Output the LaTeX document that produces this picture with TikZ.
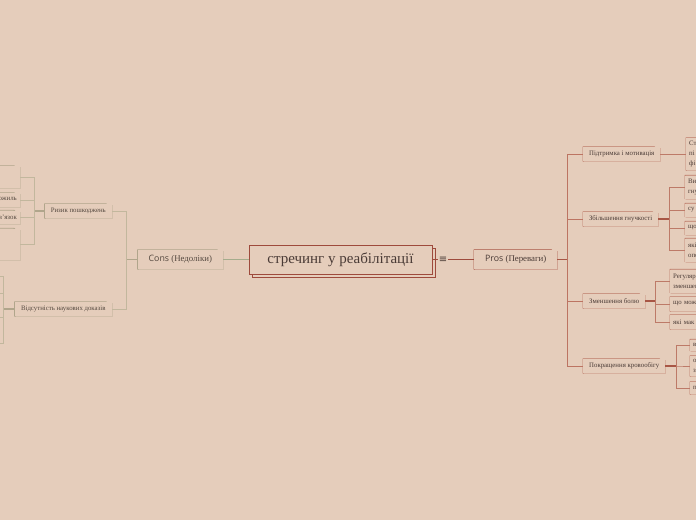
\documentclass[tikz,border=0pt]{standalone}
\usepackage{xcolor}
\usepackage{fontspec}
\setmainfont{Liberation Serif}
\newfontfamily\labelsans{Open Sans}
\newfontfamily\symbfont{DejaVu Sans}
\usepackage{tikz}
\usetikzlibrary{positioning, shadows}
\definecolor{canvasbg}{HTML}{E5CDBB}
\definecolor{rootred}{HTML}{9E4A3C}
\definecolor{prosred}{HTML}{A85645}
\definecolor{prosline}{HTML}{BC7462}
\definecolor{leafred}{HTML}{BD7A68}
\definecolor{consgray}{HTML}{B0A58B}
\definecolor{consline}{HTML}{C2B79D}
\definecolor{rootgreen}{HTML}{A5AC8C}
\definecolor{textdark}{HTML}{4A3B36}
\definecolor{textgray}{HTML}{54483F}
\tikzset{
    rootbox/.style={
        rectangle, draw=rootred, fill=canvasbg, line width=0.9pt,
        minimum width=183pt, minimum height=29pt,
        font=\fontsize{15}{17}\selectfont, text=textdark,
        copy shadow={shadow xshift=3pt, shadow yshift=-3pt}
    },
    foldbox/.style={
        rectangle, draw=none, fill=canvasbg, inner xsep=3pt, inner ysep=1pt,
        text=textdark, align=left,
        general shadow={shadow xshift=1pt, shadow yshift=-1pt, fill=#1!35!canvasbg},
        append after command={\pgfextra{
            \draw[#1, line width=0.85pt, line join=round]
                (\tikzlastnode.north west) -- ([xshift=-6pt]\tikzlastnode.north east)
                -- ([yshift=-6pt]\tikzlastnode.north east) -- (\tikzlastnode.south east)
                -- (\tikzlastnode.south west) -- cycle
                ([xshift=-6pt]\tikzlastnode.north east) |- ([yshift=-6pt]\tikzlastnode.north east);
        }}
    },
    branchbox/.style={
        foldbox=#1, minimum height=19pt, font=\fontsize{8.8}{10}\selectfont
    },
    topicbox/.style={
        foldbox=#1, minimum height=14pt, font=\fontsize{6.8}{8}\selectfont
    },
    leafbox/.style={
        foldbox=#1, font=\fontsize{6.8}{10}\selectfont, text width=52pt
    },
    rootlink/.style={line width=1.2pt, color=rootred},
    consroot/.style={line width=1pt, color=rootgreen},
    prosbus/.style={line width=0.8pt, color=prosline},
    prosstem/.style={line width=1.2pt, color=prosred},
    leaflink/.style={line width=0.8pt, color=leafred},
    leafstem/.style={line width=1.2pt, color=prosred},
    conslink/.style={line width=0.8pt, color=consline},
    consstem/.style={line width=1.2pt, color=consgray},
}
\begin{document}
\begin{tikzpicture}[x=1pt, y=-1pt]
    \useasboundingbox (0,0) rectangle (696,520);
    \fill[canvasbg] (0,0) rectangle (696,520);
    \clip (0,0) rectangle (696,520);

    % centre and the two branches
    \node[rootbox] (root) at (340.5,259.5) {стречинг у реабілітації};
    \node[branchbox=prosred, anchor=west, minimum width=83pt] (pros) at (474,259.5) {{\labelsans Pros} (Переваги)};
    \node[branchbox=consgray, anchor=east, minimum width=85pt, text=textgray] (cons) at (223,259.5) {{\labelsans Cons} (Недоліки)};

    % pros side
    \node[topicbox=leafred, anchor=west, minimum width=77pt] (support) at (583,154) {Підтримка і мотивація};
    \node[topicbox=leafred, anchor=west, minimum width=75pt] (flex) at (583,219) {Збільшення гнучкості};
    \node[topicbox=leafred, anchor=west, minimum width=62pt] (pain) at (583,301) {Зменшення болю};
    \node[topicbox=leafred, anchor=west, minimum width=82pt] (circ) at (583,366) {Покращення кровообігу};

    \node[leafbox=leafred, anchor=west, minimum height=32pt] (support1) at (686,154) {Ст\\пі\\фі};
    \node[leafbox=leafred, anchor=west, minimum height=23pt] (flex1) at (685,187) {Ви\\гну};
    \node[leafbox=leafred, anchor=west, minimum height=13pt] (flex2) at (685,210) {су};
    \node[leafbox=leafred, anchor=west, minimum height=13pt] (flex3) at (685,228) {що};
    \node[leafbox=leafred, anchor=west, minimum height=23pt] (flex4) at (685,250) {які\\опо};
    \node[leafbox=leafred, anchor=west, minimum height=23pt] (pain1) at (670,281) {Регуляр\\зменшен};
    \node[leafbox=leafred, anchor=west, minimum height=14pt] (pain2) at (670,304) {що мож};
    \node[leafbox=leafred, anchor=west, minimum height=14pt] (pain3) at (670,322) {які мак};
    \node[leafbox=leafred, anchor=west, minimum height=11pt] (circ1) at (690,345) {в};
    \node[leafbox=leafred, anchor=west, minimum height=20pt] (circ2) at (690,366) {о\\з};
    \node[leafbox=leafred, anchor=west, minimum height=12pt] (circ3) at (690,388) {п};

    % cons side
    \node[topicbox=consgray, anchor=east, minimum width=67pt, text=textgray] (risk) at (112,211) {Ризик пошкоджень};
    \node[topicbox=consgray, anchor=east, minimum width=97pt, text=textgray] (evid) at (112,309) {Відсутність наукових доказів};

    \node[topicbox=consgray, anchor=east, minimum width=60pt, minimum height=22pt] (risk1) at (20,177) {};
    \node[topicbox=consgray, anchor=east, text=textgray] (risk2) at (20,200) {сухожиль};
    \node[topicbox=consgray, anchor=east, minimum height=13pt, text=textgray] (risk3) at (20,217) {зв'язок};
    \node[topicbox=consgray, anchor=east, minimum width=60pt, minimum height=31pt] (risk4) at (20,244) {};
    \node[topicbox=consgray, anchor=east, minimum width=60pt] (evid1) at (-11,276) {};
    \node[topicbox=consgray, anchor=east, minimum width=60pt] (evid2) at (-11,293) {};
    \node[topicbox=consgray, anchor=east, minimum width=60pt] (evid3) at (-11,317) {};
    \node[topicbox=consgray, anchor=east, minimum width=60pt] (evid4) at (-11,343) {};

    % connectors
    \draw[rootlink] (root.east) -- (pros.west);
    \node[font=\symbfont\fontsize{10}{10}\selectfont, fill=canvasbg, inner sep=0.8pt, text=textdark] (menu) at (443,259.5) {≡};
    \draw[consroot] (root.west) -- (cons.east);

    \foreach \c in {support, flex, pain, circ}
        \draw[prosbus] (pros.east) -- ++(10,0) |- (\c.west);
    \draw[prosstem] (pros.east) -- ++(10,0);

    \draw[leaflink] (support.east) -- (support1.west);
    \foreach \c in {flex1, flex2, flex3, flex4}
        \draw[leaflink] (flex.east) -- ++(11,0) |- (\c.west);
    \draw[leafstem] (flex.east) -- ++(11,0);
    \foreach \c in {pain1, pain2, pain3}
        \draw[leaflink] (pain.east) -- ++(10,0) |- (\c.west);
    \draw[leafstem] (pain.east) -- ++(10,0);
    \foreach \c in {circ1, circ2, circ3}
        \draw[leaflink] (circ.east) -- ++(11,0) |- (\c.west);
    \draw[leafstem] (circ.east) -- ++(11,0);

    \foreach \c in {risk, evid}
        \draw[conslink] (cons.west) -- ++(-11,0) |- (\c.east);
    \draw[consstem] (cons.west) -- ++(-11,0);
    \foreach \c in {risk1, risk2, risk3, risk4}
        \draw[conslink] (risk.west) -- ++(-10,0) |- (\c.east);
    \draw[consstem] (risk.west) -- ++(-10,0);
    \foreach \c in {evid1, evid2, evid3, evid4}
        \draw[conslink] (evid.west) -- ++(-11,0) |- (\c.east);
    \draw[consstem] (evid.west) -- ++(-11,0);
\end{tikzpicture}
\end{document}
